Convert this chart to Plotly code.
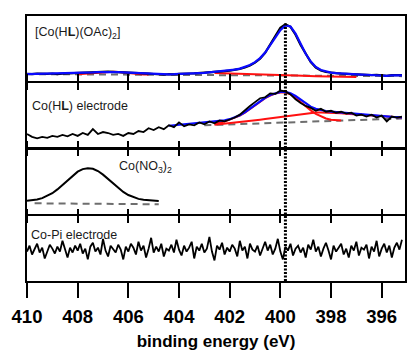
import plotly.graph_objects as go

# ---------------- data ----------------
E_START = 410.0
STEP = -0.2
STEP_FINE = -0.1
X_RANGE = [410.0, 395.08]
TICKS = [410, 408, 406, 404, 402, 400, 398, 396]
REF_ENERGY = 399.8
Y_RANGE = [0, 66.5]

LABELS = ["[Co(H<b>L</b>)(OAc)<sub>2</sub>]", "Co(H<b>L</b>) electrode",
          "Co(NO<sub>3</sub>)<sub>2</sub>", "Co-Pi electrode"]

# panel 1: [Co(HL)(OAc)2]
P1_DATA = [7.5, 7.2, 7.8, 7.4, 7.6, 7.9, 7.3, 7.7, 8.0, 7.6,
           8.2, 8.4, 8.6, 8.9, 9.3, 9.5, 9.8, 9.6, 9.4, 9.1,
           9.3, 8.8, 8.5, 8.2, 7.8, 7.4, 7.0, 6.6, 7.2, 6.9,
           7.5, 7.4, 7.9, 8.1, 8.4, 8.6, 9.0, 9.4, 9.8, 10.4,
           10.9, 11.6, 12.6, 14.0, 16.0, 19.0, 23.0, 29.0, 37.0, 46.0,
           54.5, 58.0, 55.5, 47.5, 37.0, 27.5, 19.5, 14.0, 11.0, 9.4,
           8.6, 8.2, 7.8, 7.5, 7.6, 7.1, 6.8, 7.0, 6.2, 6.6,
           6.0, 5.4, 6.3, 5.9, 6.2]
P1_FIT = [7.3, 7.4, 7.5, 7.5, 7.6, 7.6, 7.7, 7.8, 7.9, 8.0,
          8.2, 8.4, 8.7, 9.0, 9.3, 9.5, 9.6, 9.6, 9.4, 9.1,
          8.8, 8.5, 8.2, 7.9, 7.6, 7.4, 7.2, 7.1, 7.1, 7.2,
          7.3, 7.5, 7.7, 8.0, 8.3, 8.6, 9.0, 9.4, 9.9, 10.4,
          11.0, 11.8, 12.9, 14.4, 16.5, 19.5, 23.6, 29.2, 36.4, 44.5,
          52.0, 56.8, 55.8, 48.5, 38.0, 28.0, 20.0, 14.6, 11.5, 9.8,
          8.8, 8.2, 7.8, 7.5, 7.2, 7.0, 6.8, 6.6, 6.4, 6.2,
          6.0, 5.5, 6.1, 5.8, 6.0]
P1_COMP1_START = 408.0
P1_COMP1 = [7.2, 7.6, 8.1, 8.7, 9.3, 9.7, 9.9, 9.8, 9.4, 8.8, 8.2, 7.6, 7.2, 6.9, 6.8]
P1_COMP2_START = 402.6
P1_COMP2_STEP = -0.8
P1_COMP2 = [8.4, 7.9, 7.2, 6.5, 5.8, 5.1, 4.6, 4.4]
P1_BASE_E = [410.0, 395.2]
P1_BASE = [7.3, 5.2]

# panel 2: Co(HL) electrode
P2_DATA = [14, 11, 9.5, 11, 10, 12, 11, 13, 11.5, 14,
           12, 15, 13, 19, 14, 16, 15, 13, 14, 12,
           15, 14, 17, 16, 20, 18, 21, 19, 23, 21,
           26, 22, 24, 23, 26, 24, 27, 25, 28, 27,
           29, 31, 34, 39, 43, 47, 51, 52, 56, 55.5,
           59, 58, 55, 50, 46, 43, 41, 38, 40, 37,
           38, 36, 37, 35, 36, 33, 34, 32, 34, 31,
           33, 27, 32, 31, 32]
P2_FIT_START = 404.4
P2_FIT = [22.5, 23.0, 23.4, 23.8, 24.2, 24.6, 25.0, 25.4, 25.9, 26.5,
          27.2, 28.1, 29.3, 31.0, 33.3, 36.3, 40.0, 44.0, 48.0, 51.5,
          54.3, 56.3, 57.5, 57.6, 56.2, 53.3, 49.5, 45.6, 42.3, 40.0,
          38.6, 37.8, 37.2, 36.7, 36.3, 35.8, 35.3, 34.8, 34.3, 33.8,
          33.3, 32.8, 32.4, 32.0, 31.7, 31.4, 31.2]
P2_COMP_START = 402.6
P2_COMPA = [24.5, 25.5, 27.0, 28.8, 30.7, 33.0, 36.0, 39.7, 43.6, 47.6,
            51.0, 53.8, 55.8, 56.9, 56.9, 55.0, 51.5, 47.0, 42.5, 38.4,
            34.8, 32.0, 30.0, 28.8, 28.2, 28.0]
P2_COMPB = [23.5, 24.0, 24.5, 25.0, 25.5, 26.1, 26.7, 27.3, 28.0, 28.7,
            29.4, 30.1, 30.9, 31.7, 32.5, 33.3, 34.1, 34.8, 35.4, 35.9,
            36.2, 36.3, 36.2, 36.0, 35.7, 35.4, 35.0, 34.6, 34.2, 33.8,
            33.4, 33.0, 32.6, 32.2, 31.9, 31.6, 31.3, 31.0]
P2_BASE_E = [403.0, 395.2]
P2_BASE = [23.0, 30.0]

# panel 3: Co(NO3)2
P3_FIT = [13.5, 14.0, 14.8, 16.2, 18.3, 21.2, 25.2, 30.0, 35.0, 39.8,
          43.6, 46.2, 47.2, 46.6, 44.2, 40.5, 36.0, 31.2, 26.6, 22.6,
          19.4, 17.0, 15.4, 14.4, 13.8, 13.4, 13.2]
P3_BASE_E = [409.7, 404.8]
P3_BASE = [10.8, 9.8]

# panel 4: Co-Pi electrode (0.1 eV steps)
P4_DATA = [30, 36, 27, 33, 38, 29, 34, 23, 31, 37,
           33, 28, 35, 30, 41, 32, 24, 34, 29, 36,
           31, 38, 28, 33, 22, 35, 39, 30, 34, 27,
           43, 31, 25, 36, 33, 29, 37, 32, 22, 35,
           30, 38, 34, 27, 40, 31, 36, 24, 33, 44,
           29,
           35, 30, 38, 25, 33, 31, 37, 29, 42, 32,
           26, 36, 30, 34, 40, 23, 35, 31, 38, 29,
           33, 45, 30, 21, 36, 32, 39, 27, 34, 30,
           37, 33, 25, 41, 31, 35, 23, 38, 32, 30,
           36, 26, 34, 40, 31, 37, 27, 33, 43, 30,
           22, 35, 31, 38, 26, 33, 36, 29, 34, 24,
           37, 32, 42, 30, 35, 25, 33, 39, 31, 22,
           36, 30, 34, 38, 27, 33, 24, 36, 31, 40,
           26, 34, 32, 37, 23, 35, 30, 41, 25, 33,
           38, 29, 36, 24, 34, 39, 32, 42]

# ---------------- styles ----------------
BLACK = "#000000"
BLUE = "#0a0aff"
RED = "#ff1010"
GRAY = "#6e6e6e"
DASH = "7px,5px"

fig = go.Figure()


def add(xa, ya, y, color, width, x0=None, dx=None, x=None, dash=None):
    kw = dict(y=y, mode="lines", xaxis=xa, yaxis=ya, hoverinfo="skip",
              line=dict(color=color, width=width, dash=dash))
    if x is not None:
        kw["x"] = x
    else:
        kw["x0"] = x0
        kw["dx"] = dx
    fig.add_trace(go.Scatter(**kw))


# panel 1
add("x", "y", P1_BASE, GRAY, 2, x=P1_BASE_E, dash=DASH)
add("x", "y", P1_COMP1, RED, 2, x0=P1_COMP1_START, dx=STEP)
add("x", "y", P1_COMP2, RED, 2, x0=P1_COMP2_START, dx=P1_COMP2_STEP)
add("x", "y", P1_DATA, BLACK, 2.2, x0=E_START, dx=STEP)
add("x", "y", P1_FIT, BLUE, 2.2, x0=E_START, dx=STEP)

# panel 2
add("x2", "y2", P2_BASE, GRAY, 2, x=P2_BASE_E, dash=DASH)
add("x2", "y2", P2_COMPB, RED, 2, x0=P2_COMP_START, dx=STEP)
add("x2", "y2", P2_COMPA, RED, 2, x0=P2_COMP_START, dx=STEP)
add("x2", "y2", P2_FIT, BLUE, 2.2, x0=P2_FIT_START, dx=STEP)
add("x2", "y2", P2_DATA, BLACK, 1.8, x0=E_START, dx=STEP)

# panel 3
add("x3", "y3", P3_BASE, GRAY, 2, x=P3_BASE_E, dash=DASH)
add("x3", "y3", P3_FIT, BLACK, 2, x0=E_START, dx=STEP)

# panel 4
add("x4", "y4", P4_DATA, BLACK, 1.8, x0=E_START, dx=STEP_FINE)

# ---------------- layout ----------------
GAP = 0.0038  # half of a 2px gap so neighbouring frame lines coincide
DOMAINS = [[0.75 + GAP, 1.0], [0.5 + GAP, 0.75 - GAP],
           [0.25 + GAP, 0.5 - GAP], [0.0, 0.25 - GAP]]


def xaxis(i, **extra):
    d = dict(range=X_RANGE, tickvals=TICKS, showgrid=False, zeroline=False,
             showline=True, linecolor=BLACK, linewidth=2,
             ticks="outside", ticklen=7, tickwidth=2, tickcolor=BLACK,
             showticklabels=False, anchor="y" if i == 1 else f"y{i}")
    d.update(extra)
    return d


def yaxis(i):
    return dict(domain=DOMAINS[i - 1], range=Y_RANGE, showgrid=False, zeroline=False,
                showline=True, linecolor=BLACK, linewidth=2, mirror=True,
                ticks="", showticklabels=False,
                anchor="x" if i == 1 else f"x{i}")


layout = dict(
    width=409, height=353,
    margin=dict(l=27, r=2, t=16, b=72),
    paper_bgcolor="white", plot_bgcolor="white",
    showlegend=False,
    font=dict(family="Liberation Sans, Arial, sans-serif", color=BLACK),
)
layout["xaxis"] = xaxis(1, mirror=True)
layout["xaxis2"] = xaxis(2, mirror="ticks")
layout["xaxis3"] = xaxis(3, mirror="ticks")
layout["xaxis4"] = xaxis(4, mirror=True, ticklen=15, showticklabels=True,
                         tickfont=dict(size=18.5, weight="bold", color=BLACK),
                         ticklabelstandoff=3,
                         title=dict(text="binding energy (eV)",
                                    font=dict(size=17, weight="bold", color=BLACK),
                                    standoff=9))
layout["xaxis5"] = dict(range=X_RANGE, tickvals=TICKS, overlaying="x4", side="top",
                        anchor="y4", showgrid=False, zeroline=False, showline=False,
                        ticks="outside", ticklen=6, tickwidth=2, tickcolor=BLACK,
                        showticklabels=False)
for i in range(1, 5):
    layout["yaxis" if i == 1 else f"yaxis{i}"] = yaxis(i)

fig.update_layout(**layout)
# invisible trace to activate the overlay axis
fig.add_trace(go.Scatter(x=[TICKS[0]], y=[None], xaxis="x5", yaxis="y4",
                         mode="lines", hoverinfo="skip"))

fig.add_shape(type="line", xref="x4", yref="paper", x0=REF_ENERGY, x1=REF_ENERGY,
              y0=0, y1=0.977, line=dict(color=BLACK, width=3, dash="2px,1.5px"))

LABEL_POS = [(0.016, 0.936), (0.008, 0.660), (0.237, 0.430), (0.005, 0.174)]
for text, (lx, ly) in zip(LABELS, LABEL_POS):
    fig.add_annotation(text=text, xref="paper", yref="paper", x=lx, y=ly,
                       xanchor="left", yanchor="middle", showarrow=False,
                       font=dict(size=12.5, color="#1a1a1a"))

fig.write_html("out.html", config={"displayModeBar": False},
               post_script="document.body.style.margin='0';"
                           "document.body.style.overflow='hidden';")
